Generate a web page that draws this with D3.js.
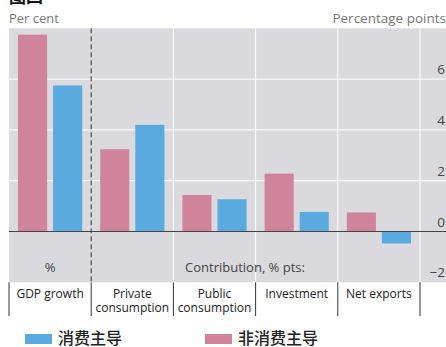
<!DOCTYPE html>
<html><head><meta charset="utf-8">
<script src="https://cdn.jsdelivr.net/npm/d3@7"></script>
<style>
body{margin:0;background:#fff;}
svg{display:block;}
</style></head>
<body>
<svg id="chart" width="446" height="347"></svg>
<script>
const categories = ["GDP growth","Private consumption","Public consumption","Investment","Net exports"];
const categoryLines = [["GDP growth"],["Private","consumption"],["Public","consumption"],["Investment"],["Net exports"]];
const seriesNames = ["非消费主导","消费主导"];
const nonConsumptionLed = [7.75, 3.24, 1.44, 2.28, 0.75];
const consumptionLed = [5.75, 4.2, 1.27, 0.77, -0.47];
const yTicks = [-2, 0, 2, 4, 6];
const colors = {"非消费主导":"#d0849b","消费主导":"#5aaae0"};

const svg = d3.select("#chart");
const font = "'Open Sans', 'Noto Sans', sans-serif";
const plotL = 9, plotR = 420, bgR = 446, plotT = 28.3, plotB = 282.3;

const x = d3.scaleBand().domain(categories).range([plotL, plotR]).padding(0);
const xs = d3.scaleBand().domain(seriesNames).range([9, x.bandwidth()-9]).paddingInner(0.17).paddingOuter(0);
const y = d3.scaleLinear().domain([-2, 8]).range([plotB, plotT]);

// title (cut off at top)
svg.append("text").attr("x", 9).attr("y", 3).text("图四")
  .attr("font-family","'Noto Sans CJK SC'").attr("font-weight","bold").attr("font-size",17).attr("fill","#111");

// background
svg.append("rect").attr("x", plotL).attr("y", plotT).attr("width", bgR-plotL).attr("height", plotB-plotT).attr("fill","#dadade");

// horizontal gridlines
svg.append("g").selectAll("line").data([2,4,6]).join("line")
  .attr("x1", plotL).attr("x2", bgR).attr("y1", d=>y(d)).attr("y2", d=>y(d))
  .attr("stroke","#fff").attr("stroke-width",1);

// vertical gridlines (white) at category boundaries except first boundary
const bounds = categories.map(c=>x(c)).concat([plotR]);
svg.append("g").selectAll("line").data(bounds.slice(2)).join("line")
  .attr("x1", d=>d).attr("x2", d=>d).attr("y1", plotT).attr("y2", plotB)
  .attr("stroke","#fff").attr("stroke-width",1);

// bars
const data = categories.map((c,i)=>({cat:c, vals:[{s:seriesNames[0], v:nonConsumptionLed[i]},{s:seriesNames[1], v:consumptionLed[i]}]}));
const g = svg.append("g").selectAll("g").data(data).join("g").attr("transform", d=>`translate(${x(d.cat)},0)`);
g.selectAll("rect").data(d=>d.vals).join("rect")
  .attr("x", d=>xs(d.s)).attr("width", xs.bandwidth())
  .attr("y", d=>y(Math.max(0,d.v))).attr("height", d=>Math.abs(y(d.v)-y(0)))
  .attr("fill", d=>colors[d.s]);

// zero line
svg.append("line").attr("x1", plotL).attr("x2", bgR).attr("y1", y(0)).attr("y2", y(0))
  .attr("stroke","#444").attr("stroke-width",1);

// dashed separator
svg.append("line").attr("x1", bounds[1]).attr("x2", bounds[1]).attr("y1", plotT).attr("y2", plotB)
  .attr("stroke","#333").attr("stroke-width",1).attr("stroke-dasharray","5,3");

// right axis labels
svg.append("g").selectAll("text").data(yTicks).join("text")
  .attr("x", 445).attr("y", d=>y(d)-5).attr("text-anchor","end")
  .attr("font-family",font).attr("font-size",13.5).attr("fill","#444")
  .text(d=> d<0 ? "\u2212"+Math.abs(d) : d);

// axis titles
svg.append("text").attr("x", 9).attr("y", 23).text("Per cent")
  .attr("font-family",font).attr("font-size",13).attr("fill","#777");
svg.append("text").attr("x", 446).attr("y", 23).attr("text-anchor","end").text("Percentage points")
  .attr("font-family",font).attr("font-size",13.5).attr("fill","#777");

// inner labels
svg.append("text").attr("x", x(categories[0])+x.bandwidth()/2).attr("y", 272).attr("text-anchor","middle").text("%")
  .attr("font-family",font).attr("font-size",13).attr("fill","#444");
svg.append("text").attr("x", 245).attr("y", 272).attr("text-anchor","middle").text("Contribution, % pts:")
  .attr("font-family",font).attr("font-size",13).attr("fill","#444");

// table
svg.append("g").selectAll("line").data(bounds).join("line")
  .attr("x1", d=>d).attr("x2", d=>d).attr("y1", plotB).attr("y2", 316)
  .attr("stroke","#333").attr("stroke-width",1);
const lab = svg.append("g").selectAll("text").data(categories).join("text")
  .attr("text-anchor","middle").attr("font-family",font).attr("font-size",12).attr("fill","#222");
lab.each(function(c,i){
  const t = d3.select(this);
  categoryLines[i].forEach((line,j)=>{
    t.append("tspan").attr("x", x(c)+x.bandwidth()/2).attr("y", 298 + j*14).text(line);
  });
});

// legend
const legend = [{s:"消费主导", x:25},{s:"非消费主导", x:205}];
const lg = svg.append("g").selectAll("g").data(legend).join("g").attr("transform", d=>`translate(${d.x},0)`);
lg.append("rect").attr("x",0).attr("y",334).attr("width",27).attr("height",10).attr("fill", d=>colors[d.s]);
lg.append("text").attr("x",33).attr("y",344).text(d=>d.s)
  .attr("font-family","'Noto Sans CJK SC'").attr("font-weight","500").attr("font-size",16).attr("fill","#222");
</script>
</body></html>
